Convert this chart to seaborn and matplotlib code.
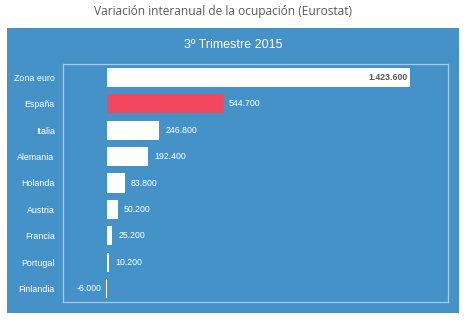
import matplotlib
matplotlib.use("Agg")
import matplotlib.pyplot as plt
import seaborn as sns
import pandas as pd
from matplotlib.patches import Rectangle

paises = ["Zona euro", "España", "Italia", "Alemania", "Holanda", "Austria", "Francia", "Portugal", "Finlandia"]
valores = [1423600, 544700, 246800, 192400, 83800, 50200, 25200, 10200, -6000]
etiquetas = ["1.423.600", "544.700", "246.800", "192.400", "83.800", "50.200", "25.200", "10.200", "-6.000"]
colores = ["#ffffff", "#f2475c", "#ffffff", "#ffffff", "#ffffff", "#ffffff", "#ffffff", "#ffffff", "#ffffff"]

sns.set_theme(style="white")
plt.rcParams["font.family"] = ["Liberation Sans", "DejaVu Sans"]

BLUE = "#4592c9"
df = pd.DataFrame({"pais": paises, "valor": valores})

fig = plt.figure(figsize=(4.7, 3.23), dpi=100)
fig.patch.set_facecolor("white")
fig.patches.append(Rectangle((7 / 470, 1 - 313 / 323), (459 - 7) / 470, (313 - 28) / 323,
                             transform=fig.transFigure, facecolor=BLUE, edgecolor="none", zorder=-5))

ax = fig.add_axes([63 / 470, 1 - 302 / 323, (448 - 63) / 470, (302 - 64) / 323])
ax.set_zorder(2)
ax.set_facecolor(BLUE)
sns.barplot(data=df, x="valor", y="pais", hue="pais", palette=colores, orient="h",
            width=0.72, legend=False, ax=ax, saturation=1, linewidth=0)
ax.set_xlim(-206000, 1602000)
ax.set_ylim(8.5, -0.5)
ax.set_xticks([])
ax.set_xlabel("")
ax.set_ylabel("")
for s in ax.spines.values():
    s.set_color("#a8cce8")
    s.set_linewidth(0.9)
ax.tick_params(axis="y", length=0, pad=6, labelsize=6.4, labelcolor="white")

for i, (v, t) in enumerate(zip(valores, etiquetas)):
    if i == 0:
        ax.text(v - 12000, i, t, ha="right", va="center", fontsize=6.3, color="#555555", fontweight="bold")
    elif v < 0:
        ax.text(v - 20000, i, t, ha="right", va="center", fontsize=6.3, color="white")
    else:
        ax.text(v + 28000, i, t, ha="left", va="center", fontsize=6.3, color="white")

fig.text(223 / 470, 1 - 12 / 323, "Variación interanual de la ocupación (Eurostat)",
         ha="center", va="center", fontsize=8.6, color="#595959", family=["Open Sans", "DejaVu Sans"])
fig.text(233 / 470, 1 - 45 / 323, "3º Trimestre 2015", ha="center", va="center",
         fontsize=9, color="white", zorder=3)

fig.savefig("out.png", dpi=100, facecolor="white")
